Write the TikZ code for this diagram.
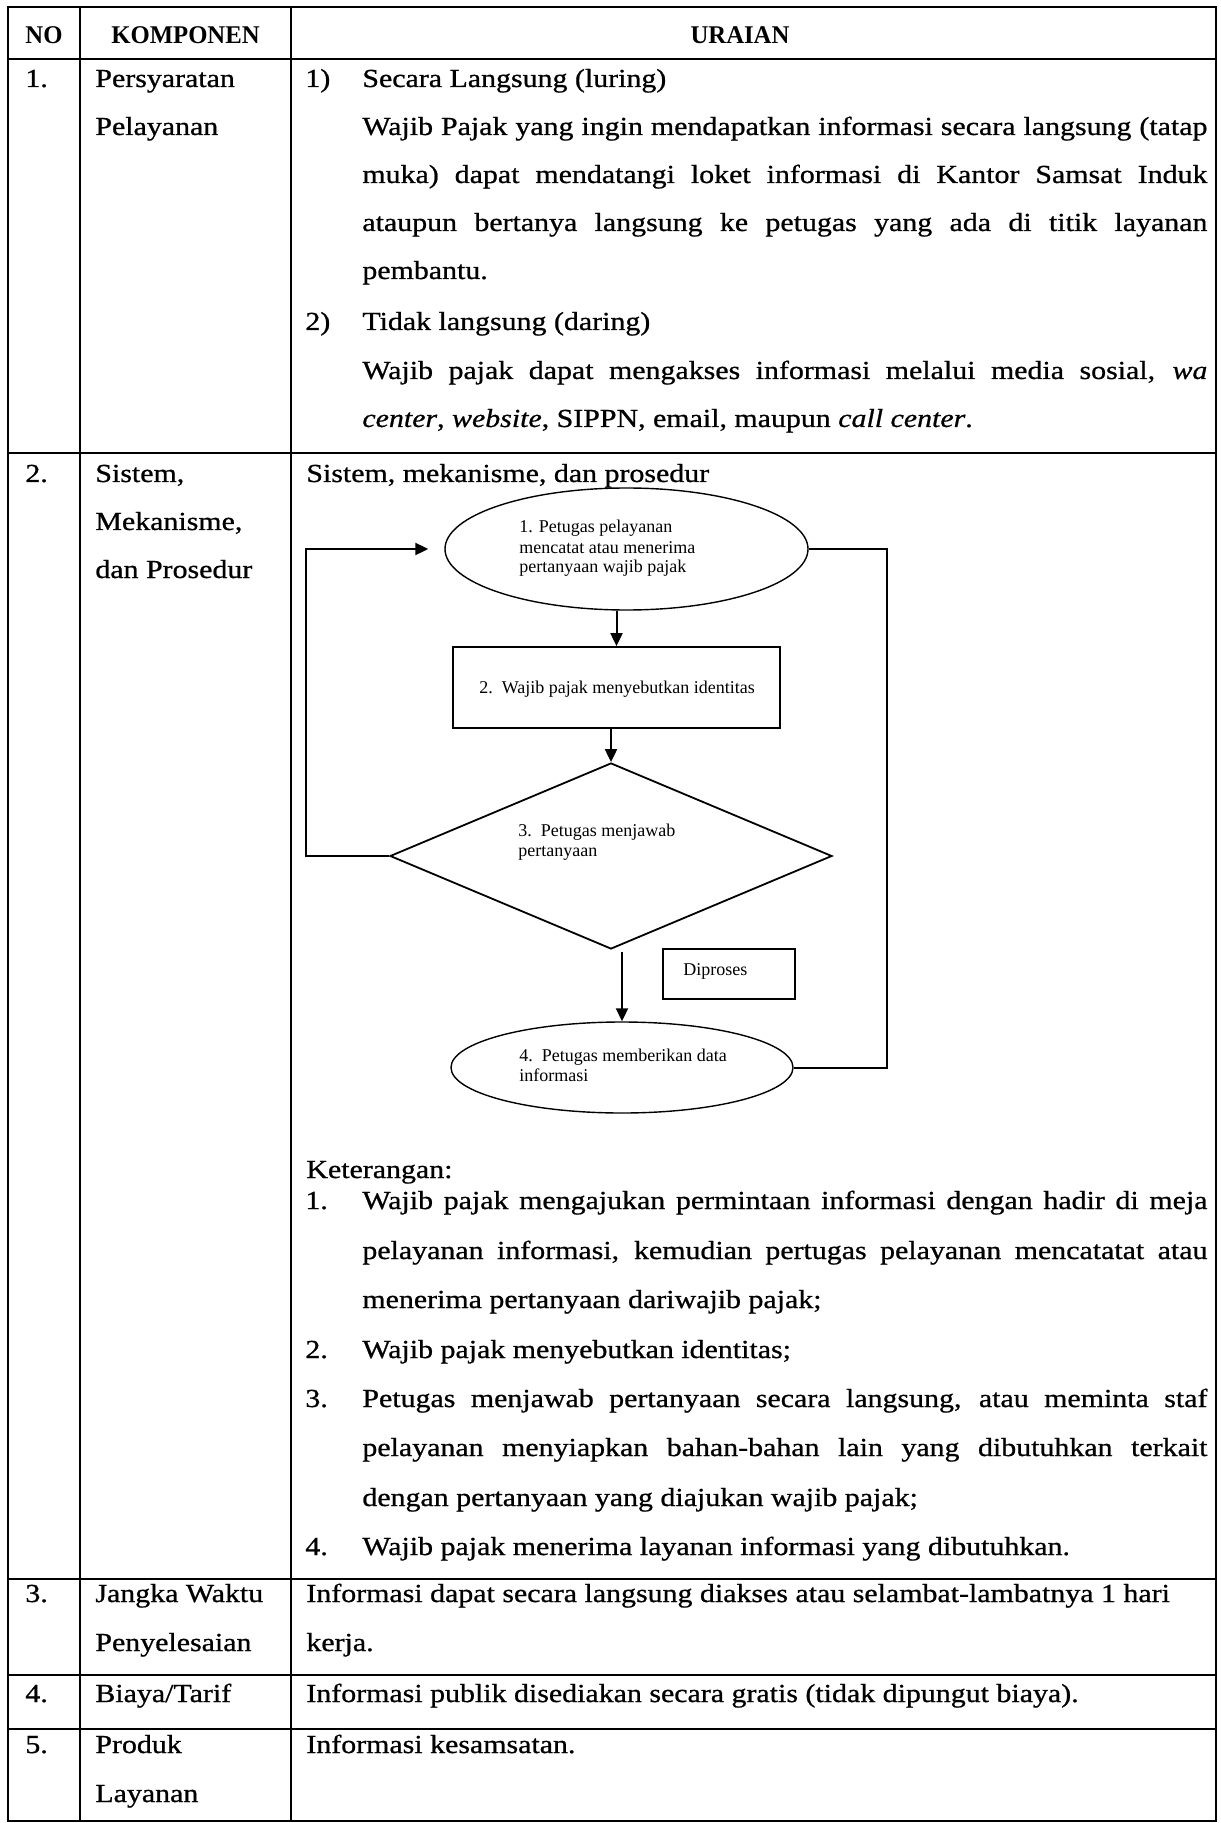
\documentclass[tikz,border=0pt]{standalone}
\usepackage{fontspec}
\setmainfont{Liberation Serif}[FakeStretch=1.15, FakeBold=0.8]
\newfontfamily\headfont{Liberation Serif}[FakeStretch=0.97]
\newfontfamily\chartfont{Liberation Serif}
\usetikzlibrary{shapes.geometric,arrows.meta}

% justified line of the description column
\newcommand\jl[1]{\makebox[422.5pt][s]{#1}}

\tikzset{
  grid/.style={line width=1.2pt, line cap=rect},
  txt/.style={anchor=base west, inner sep=0pt, font=\fontsize{13}{15}\selectfont},
  head/.style={anchor=base, inner sep=0pt, font=\headfont\bfseries\fontsize{12.75}{15}\selectfont},
  ctxt/.style={anchor=base west, inner sep=0pt, font=\chartfont\fontsize{9}{10}\selectfont},
  oval/.style={draw, ellipse, line width=0.7pt, inner sep=0pt},
  boxshape/.style={draw, rectangle, line width=0.9pt, inner sep=0pt},
  decision/.style={draw, diamond, line width=0.9pt, inner sep=0pt},
  flow/.style={line width=1pt},
  arr/.style={flow, -{Triangle[length=6.5pt,width=6pt]}}
}

\begin{document}
\begin{tikzpicture}[x=0.5pt, y=-0.5pt]
  % page
  \fill[white] (0,0) rectangle (1220,1823);
  \useasboundingbox (0,0) rectangle (1220,1823);

  % table rules
  \foreach \gx in {8,80,291,1216} \draw[grid] (\gx,7) -- (\gx,1821);
  \foreach \gy in {7,59,453,1579,1675,1729,1821} \draw[grid] (8,\gy) -- (1216,\gy);

  % header
  \node[head] (hno) at (44,44) {NO};
  \node[head] (hkomp) at (185.5,44) {KOMPONEN};
  \node[head] (hur) at (740,44) {URAIAN};

  % row 1
  \node[txt] (n1) at (25,87) {1.};
  \node[txt] (k1a) at (95,87) {Persyaratan};
  \node[txt] (k1b) at (95,135) {Pelayanan};
  \node[txt] (u1n) at (305,87) {1)};
  \node[txt] (u1a) at (362,87) {Secara Langsung (luring)};
  \node[txt] (u1b) at (362,135) {\jl{Wajib Pajak yang ingin mendapatkan informasi secara langsung (tatap}};
  \node[txt] (u1c) at (362,183) {\jl{muka) dapat mendatangi loket informasi di Kantor Samsat Induk}};
  \node[txt] (u1d) at (362,231) {\jl{ataupun bertanya langsung ke petugas yang ada di titik layanan}};
  \node[txt] (u1e) at (362,279) {pembantu.};
  \node[txt] (u2n) at (305,330) {2)};
  \node[txt] (u2a) at (362,330) {Tidak langsung (daring)};
  \node[txt] (u2b) at (362,379) {\jl{Wajib pajak dapat mengakses informasi melalui media sosial, \textit{wa}}};
  \node[txt] (u2c) at (362,427) {\textit{center}, \textit{website}, SIPPN, email, maupun \textit{call center}.};

  % row 2
  \node[txt] (n2) at (25,482) {2.};
  \node[txt] (k2a) at (95,482) {Sistem,};
  \node[txt] (k2b) at (95,530) {Mekanisme,};
  \node[txt] (k2c) at (95,578) {dan Prosedur};
  \node[txt] (smp) at (306,482) {Sistem, mekanisme, dan prosedur};

  % flowchart shapes
  \node[oval, minimum width=181.5pt, minimum height=61pt] (s1) at (626.5,549) {};
  \node[boxshape, minimum width=163.5pt, minimum height=40.5pt] (s2) at (616.5,687.5) {};
  \node[decision, minimum width=221pt, minimum height=93pt] (s3) at (611,856) {};
  \node[oval, minimum width=171pt, minimum height=45.5pt] (s4) at (622,1067.5) {};
  \node[boxshape, minimum width=66pt, minimum height=25pt] (dp) at (729,974) {};

  % flowchart texts
  \node[ctxt] (s1a) at (519,532) {1. Petugas pelayanan};
  \node[ctxt] (s1b) at (519,553) {mencatat atau menerima};
  \node[ctxt] (s1c) at (519,573) {pertanyaan wajib pajak};
  \node[ctxt] (s2a) at (479,693) {2.\ \ Wajib pajak menyebutkan identitas};
  \node[ctxt] (s3a) at (518,836) {3.\ \ Petugas menjawab};
  \node[ctxt] (s3b) at (518,856) {pertanyaan};
  \node[ctxt] (s4a) at (519,1061) {4.\ \ Petugas memberikan data};
  \node[ctxt] (s4b) at (519,1081) {informasi};
  \node[ctxt] (dpt) at (683,975) {Diproses};

  % flowchart connectors
  \coordinate (lp) at (306,549);
  \coordinate (rp) at (887,549);
  \draw[arr] (s2.north |- s1.south) -- (s2.north);
  \draw[arr] (s3.north |- s2.south) -- (s3.north);
  \draw[arr] ([yshift=-1pt]s4.north |- s3.south) -- (s4.north);
  \draw[arr] (s3.west) -| (lp) -- ([xshift=-8pt]s1.west);
  \draw[flow] (s1.east) -- (rp) -- (rp |- s4.east) -- (s4.east);

  % legend
  \node[txt] (ket) at (306,1178) {Keterangan:};
  \node[txt] (k1n) at (305,1209) {1.};
  \node[txt] (k1l1) at (362,1209) {\jl{Wajib pajak mengajukan permintaan informasi dengan hadir di meja}};
  \node[txt] (k1l2) at (362,1259) {\jl{pelayanan informasi, kemudian pertugas pelayanan mencatatat atau}};
  \node[txt] (k1l3) at (362,1308) {menerima pertanyaan dariwajib pajak;};
  \node[txt] (k2n) at (305,1358) {2.};
  \node[txt] (k2l1) at (362,1358) {Wajib pajak menyebutkan identitas;};
  \node[txt] (k3n) at (305,1407) {3.};
  \node[txt] (k3l1) at (362,1407) {\jl{Petugas menjawab pertanyaan secara langsung, atau meminta staf}};
  \node[txt] (k3l2) at (362,1456) {\jl{pelayanan menyiapkan bahan-bahan lain yang dibutuhkan terkait}};
  \node[txt] (k3l3) at (362,1506) {dengan pertanyaan yang diajukan wajib pajak;};
  \node[txt] (k4n) at (305,1555) {4.};
  \node[txt] (k4l1) at (362,1555) {Wajib pajak menerima layanan informasi yang dibutuhkan.};

  % row 3
  \node[txt] (n3) at (25,1602) {3.};
  \node[txt] (k3a) at (95,1602) {Jangka Waktu};
  \node[txt] (k3b) at (95,1651) {Penyelesaian};
  \node[txt] (u3a) at (306,1602) {Informasi dapat secara langsung diakses atau selambat-lambatnya 1 hari};
  \node[txt] (u3b) at (306,1651) {kerja.};

  % row 4
  \node[txt] (n4) at (25,1702) {4.};
  \node[txt] (k4a) at (95,1702) {Biaya/Tarif};
  \node[txt] (u4a) at (306,1702) {Informasi publik disediakan secara gratis (tidak dipungut biaya).};

  % row 5
  \node[txt] (n5) at (25,1753) {5.};
  \node[txt] (k5a) at (95,1753) {Produk};
  \node[txt] (k5b) at (95,1802) {Layanan};
  \node[txt] (u5a) at (306,1753) {Informasi kesamsatan.};
\end{tikzpicture}
\end{document}
